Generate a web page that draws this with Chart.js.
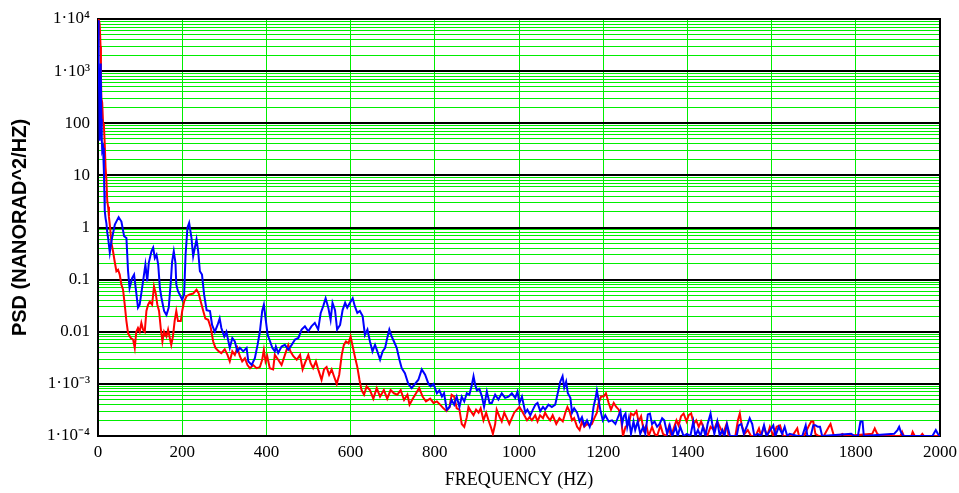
<!DOCTYPE html>
<html>
<head>
<meta charset="utf-8">
<script src="https://cdn.jsdelivr.net/npm/chart.js@4.4.1/dist/chart.umd.min.js"></script>
<style>
  body { margin: 0; background: #fff; }
  #psd-chart { display: block; }
</style>
</head>
<body>
<canvas id="psd-chart" width="959" height="493"></canvas>
<script>
// ---- data ----
var freqBlue = [0, 1, 2, 3, 4, 5, 6, 7, 8, 9, 10, 12, 14, 15, 16, 18, 20, 22, 24, 28, 32, 40, 49, 55.6, 62, 67.5, 71.4, 75, 81, 85.7, 91, 95, 99, 107, 112.6, 117, 120.6, 127, 131, 135, 139, 143, 147, 150.7, 157, 162.6, 168, 173, 176, 180, 184, 186, 190, 194, 200, 204.6, 208, 212.5, 216.5, 222, 226, 230, 234, 238, 242, 247, 252, 258, 266, 271, 277.5, 284, 289, 293, 300, 305, 313, 319, 325, 331, 337, 345, 353, 357, 365, 372.6, 379, 384.5, 390, 394, 398, 403, 408, 414, 420, 422.5, 428, 436, 444, 452, 460, 468, 476, 483.6, 491.5, 499.5, 507, 515, 523, 529, 535, 540.7, 547, 552.5, 557, 563, 568, 575, 581, 587, 592, 598.5, 605, 610, 616, 622, 628.6, 634, 640, 646, 652, 658, 663.5, 670, 676, 682, 687, 692, 697.6, 703, 709.5, 716, 721.4, 729, 737, 745, 753, 761, 769, 777, 785, 790, 797, 805, 811, 817, 822, 828.4, 835, 840, 846, 852, 858.5, 864, 870, 876, 882, 888, 892, 896, 900, 906, 912, 917, 923.6, 930, 935.5, 943.4, 951, 959, 967, 975, 983, 991, 996.5, 1001, 1007, 1015, 1020, 1027, 1033, 1039, 1044, 1050.5, 1057, 1062, 1070, 1078, 1086, 1092, 1098, 1103.5, 1107.5, 1112, 1116, 1122, 1126, 1131, 1138, 1144, 1149.5, 1155, 1161.5, 1168, 1173, 1177, 1182, 1185, 1189, 1193, 1199, 1205, 1213, 1221, 1229, 1237, 1241, 1245, 1249, 1253, 1257, 1261, 1266, 1272, 1276, 1282, 1288, 1295, 1300, 1306, 1311, 1316, 1322, 1328, 1334, 1340, 1345, 1352, 1358, 1364, 1372, 1377, 1383, 1391, 1399, 1407, 1414, 1419, 1425, 1431, 1437, 1443, 1448, 1455, 1459, 1464, 1471, 1477, 1483, 1488, 1494, 1501, 1517, 1522, 1528, 1534, 1542, 1548, 1554, 1559, 1567, 1575, 1582, 1588, 1597, 1604, 1609, 1617, 1625, 1631, 1637, 1643, 1661, 1673, 1681, 1685, 1693, 1699, 1704, 1710, 1715, 1720, 1789, 1797, 1805, 1811, 1816, 1819, 1891, 1899, 1903, 1907, 1913, 1982, 1990, 1995, 2000];
var psdBlue = [9500, 5000, 1400, 300, 46, 500, 1400, 1000, 120, 50, 30, 34, 12, 5, 2.1, 1.5, 1.2, 0.8, 0.63, 0.33, 0.55, 1.14, 1.58, 1.3, 0.68, 0.63, 0.145, 0.069, 0.107, 0.125, 0.055, 0.029, 0.033, 0.093, 0.195, 0.093, 0.21, 0.35, 0.41, 0.26, 0.3, 0.195, 0.069, 0.045, 0.025, 0.021, 0.029, 0.093, 0.22, 0.35, 0.21, 0.08, 0.06, 0.052, 0.041, 0.052, 0.3, 0.99, 1.23, 0.63, 0.28, 0.41, 0.59, 0.35, 0.145, 0.125, 0.052, 0.026, 0.025, 0.0135, 0.01, 0.0135, 0.018, 0.0118, 0.0081, 0.01, 0.0049, 0.0076, 0.0065, 0.0042, 0.0049, 0.0042, 0.0049, 0.0027, 0.0023, 0.0031, 0.0056, 0.01, 0.025, 0.033, 0.018, 0.0087, 0.0068, 0.0049, 0.0042, 0.0052, 0.0039, 0.0052, 0.0056, 0.0045, 0.0056, 0.0071, 0.0076, 0.011, 0.0127, 0.0102, 0.0127, 0.0148, 0.011, 0.023, 0.031, 0.044, 0.029, 0.017, 0.036, 0.026, 0.011, 0.0135, 0.026, 0.036, 0.029, 0.036, 0.044, 0.031, 0.023, 0.025, 0.02, 0.0087, 0.011, 0.0065, 0.0042, 0.0056, 0.0042, 0.0029, 0.0042, 0.0049, 0.0076, 0.011, 0.0081, 0.0065, 0.0049, 0.0029, 0.002, 0.0016, 0.001, 0.00083, 0.001, 0.0012, 0.0019, 0.0015, 0.001, 0.0009, 0.001, 0.00066, 0.00075, 0.00057, 0.00066, 0.00032, 0.00036, 0.00049, 0.0004, 0.00057, 0.00036, 0.00057, 0.00046, 0.00066, 0.00062, 0.00095, 0.0014, 0.00095, 0.00075, 0.0008, 0.00057, 0.00036, 0.00071, 0.00043, 0.00043, 0.00062, 0.0005, 0.00066, 0.00054, 0.00057, 0.00066, 0.00054, 0.00071, 0.00043, 0.00057, 0.00028, 0.00032, 0.00025, 0.00032, 0.0004, 0.00043, 0.0003, 0.00036, 0.00032, 0.0004, 0.00036, 0.0004, 0.00066, 0.0011, 0.0014, 0.00085, 0.0011, 0.00066, 0.00054, 0.00028, 0.00034, 0.00028, 0.00019, 0.00023, 0.00016, 0.0002, 0.00015, 0.0002, 0.00036, 0.00054, 0.00075, 0.0005, 0.00032, 0.0002, 0.00025, 0.00019, 0.0002, 0.00017, 0.00025, 0.0003, 0.00017, 0.00024, 0.00027, 0.00015, 0.00022, 0.00011, 0.00019, 0.00013, 0.00019, 0.00011, 0.00015, 0.00011, 0.00026, 0.00027, 0.00017, 0.00019, 0.00015, 0.00017, 0.00022, 0.0002, 0.00011, 0.00016, 0.0001, 0.00015, 0.0001, 0.00015, 0.0001, 0.00011, 0.0001, 0.00019, 0.0001, 0.00013, 0.0001, 0.00015, 0.0001, 0.00017, 0.00027, 0.00017, 0.00011, 0.00019, 0.0001, 0.00013, 0.0001, 0.00017, 0.0001, 0.0001, 0.00016, 0.00017, 0.00011, 0.00016, 0.00022, 0.00017, 0.0001, 0.00011, 0.0001, 0.00016, 0.0001, 0.00013, 0.00016, 0.0001, 0.00015, 0.00011, 0.00015, 0.0001, 0.00011, 0.0001, 0.0001, 0.00016, 0.0001, 0.0001, 0.00016, 0.00016, 0.00015, 0.00015, 0.0001, 0.00011, 0.0001, 0.0001, 0.00019, 0.00019, 0.0001, 0.00011, 0.00013, 0.00015, 0.00012, 0.0001, 0.0001, 0.00013, 0.00011, 0.0001];

var freqRed = [0, 2, 4, 6, 7, 8, 10, 12, 14, 16, 18, 20, 22, 24, 26, 28, 32, 35.7, 39.7, 43.7, 47.6, 51.6, 55.6, 59.5, 63.5, 67.5, 71.4, 77.8, 83.3, 87.3, 91, 95, 99, 103, 107, 111, 115, 119, 123, 128.5, 133, 137, 141, 145, 149, 153, 157, 162.6, 166.5, 170.5, 174, 178, 182, 186, 190, 196.7, 200, 204.6, 210, 218, 226, 234, 239, 244, 250, 255, 261.7, 268, 273.6, 279, 287, 293, 301, 307.6, 313, 319, 325, 331, 337, 342.5, 349, 355, 361, 368.7, 376.6, 384.5, 390, 394, 398, 402, 408, 416, 420, 428, 436, 444, 452, 457, 464, 472, 480, 486, 491.5, 499.5, 505, 511, 517.6, 523, 531, 537, 543, 549, 555, 560.5, 567, 573, 579, 584, 589, 595, 600, 605, 610, 616, 621, 626, 632, 638, 646, 654, 662, 670, 679, 687, 695, 703, 711, 719, 727, 735, 740, 747.6, 755.5, 763, 771, 779, 789, 797, 805, 812.6, 820.5, 828, 835, 840, 846, 852, 858.5, 864, 870, 876, 880, 885.5, 892, 898, 904, 909, 915.6, 922, 927.5, 933, 938, 943.4, 947, 954, 959, 965, 971, 977, 983, 988.6, 995, 1001, 1007, 1012.5, 1019, 1025, 1030.6, 1038.5, 1044, 1050, 1057, 1062, 1068, 1074, 1080, 1088.5, 1096, 1104, 1110, 1115, 1120, 1126, 1131, 1138, 1144, 1149.5, 1155, 1161.5, 1168, 1173, 1179, 1185, 1189, 1195, 1201, 1206.5, 1213, 1218.5, 1225, 1231, 1237, 1242, 1247, 1253, 1261, 1266, 1272, 1279, 1284, 1290, 1296, 1302.5, 1308, 1316, 1322, 1328, 1336, 1342, 1350, 1356, 1361, 1367.5, 1374, 1379, 1385, 1391, 1398, 1403, 1409, 1415, 1421, 1427, 1432.5, 1439, 1447, 1455, 1463, 1471, 1477, 1485, 1493, 1498, 1514, 1520, 1524.5, 1529, 1536, 1543.5, 1551, 1562, 1570, 1575, 1581.5, 1589.5, 1596, 1604, 1612, 1620, 1627.5, 1649, 1661, 1665, 1677, 1689, 1694, 1699, 1704, 1712, 1724, 1736, 1740, 1744, 1748, 1760, 1768, 1776, 1839, 1845, 1851, 1859, 1906, 1910, 1914, 1932, 1935, 1940, 1954, 1958, 1962, 2000];
var psdRed = [9000, 9500, 8000, 3000, 800, 300, 250, 100, 90, 40, 14, 8, 3.2, 2.5, 1.6, 1.14, 0.5, 0.35, 0.22, 0.145, 0.155, 0.125, 0.08, 0.064, 0.033, 0.016, 0.0094, 0.0076, 0.0071, 0.0049, 0.01, 0.0118, 0.01, 0.0148, 0.011, 0.01, 0.025, 0.033, 0.038, 0.033, 0.074, 0.055, 0.033, 0.025, 0.0118, 0.0065, 0.01, 0.0081, 0.011, 0.0076, 0.0056, 0.0081, 0.016, 0.025, 0.016, 0.016, 0.025, 0.038, 0.048, 0.052, 0.054, 0.064, 0.055, 0.038, 0.025, 0.018, 0.017, 0.0118, 0.0065, 0.0049, 0.0042, 0.0039, 0.0046, 0.0036, 0.0027, 0.0042, 0.0036, 0.0049, 0.0034, 0.0027, 0.0031, 0.0023, 0.002, 0.0023, 0.002, 0.0021, 0.0029, 0.0045, 0.0027, 0.0034, 0.002, 0.0019, 0.0036, 0.0029, 0.0023, 0.0036, 0.0056, 0.0042, 0.0034, 0.0029, 0.0036, 0.0019, 0.0025, 0.0036, 0.0025, 0.002, 0.0027, 0.0019, 0.0012, 0.0019, 0.0021, 0.0015, 0.0019, 0.0014, 0.001, 0.0015, 0.0036, 0.0056, 0.0065, 0.006, 0.0081, 0.0052, 0.0034, 0.0021, 0.0012, 0.00076, 0.00062, 0.00089, 0.00076, 0.00052, 0.00083, 0.00057, 0.00076, 0.00052, 0.00076, 0.00066, 0.00062, 0.00076, 0.00049, 0.00062, 0.0004, 0.00052, 0.00066, 0.00083, 0.00057, 0.00046, 0.00052, 0.00043, 0.00046, 0.0004, 0.00034, 0.0003, 0.00036, 0.00062, 0.00057, 0.00034, 0.00032, 0.00017, 0.00015, 0.00023, 0.00036, 0.0003, 0.00025, 0.00032, 0.00028, 0.00034, 0.0002, 0.00028, 0.0002, 0.00015, 0.00011, 0.00017, 0.00032, 0.00023, 0.00019, 0.00028, 0.00022, 0.00017, 0.00022, 0.00028, 0.00032, 0.00036, 0.0003, 0.00025, 0.0002, 0.00023, 0.0002, 0.00025, 0.00019, 0.00025, 0.00022, 0.00028, 0.00023, 0.0002, 0.00025, 0.00017, 0.00022, 0.00019, 0.00028, 0.00036, 0.0003, 0.0002, 0.00022, 0.00015, 0.00013, 0.00019, 0.00015, 0.00017, 0.00016, 0.00017, 0.00022, 0.00028, 0.00043, 0.00057, 0.00057, 0.00066, 0.00043, 0.00032, 0.00043, 0.00036, 0.00032, 0.00023, 0.0001, 0.00015, 0.00017, 0.00027, 0.00025, 0.0003, 0.00019, 0.00024, 0.00013, 0.00016, 0.0001, 0.00015, 0.00011, 0.0001, 0.00016, 0.00011, 0.0001, 0.00015, 0.0001, 0.00014, 0.0002, 0.00016, 0.00024, 0.00027, 0.00019, 0.00025, 0.00027, 0.00017, 0.0002, 0.00015, 0.00019, 0.00014, 0.0001, 0.00015, 0.00013, 0.00019, 0.00015, 0.00011, 0.00017, 0.0001, 0.0001, 0.0002, 0.00027, 0.00016, 0.00011, 0.00013, 0.0001, 0.0001, 0.00014, 0.0001, 0.00015, 0.0001, 0.00015, 0.0001, 0.00015, 0.00016, 0.0001, 0.0001, 0.00014, 0.0001, 0.0001, 0.00016, 0.00019, 0.00019, 0.00011, 0.0001, 0.0001, 0.00015, 0.00017, 0.00013, 0.0001, 0.0001, 0.00011, 0.0001, 0.00011, 0.00014, 0.00011, 0.0001, 0.0001, 0.00012, 0.0001, 0.0001, 0.00012, 0.0001, 0.0001, 0.00011, 0.0001, 0.0001];

// y axis: decades get a label and a black line, 2..9 get green lines
var decadeValues = [0.0001, 0.001, 0.01, 0.1, 1, 10, 100, 1000, 10000];
var decadeLabels = ['1·10⁻⁴', '1·10⁻³', '0.01', '0.1', '1', '10', '100', '1·10³', '1·10⁴'];
var minorSteps = [2, 3, 4, 5, 6, 7, 8, 9];
var xTickStep = 200;

function toPoints(xs, ys) {
  return xs.map(function(x, i) { return {x: x, y: ys[i]}; });
}

var yTickList = [];
decadeValues.forEach(function(d, i) {
  yTickList.push({value: d, major: true, label: decadeLabels[i]});
  if (i < decadeValues.length - 1) {
    minorSteps.forEach(function(m) {
      yTickList.push({value: d * m, major: false, label: ''});
    });
  }
});

var serif = 'Liberation Serif';

//// frame around the plot area ////
var frame = {
  id: 'frame',
  beforeDatasetsDraw: function(chart) {
    var a = chart.chartArea;
    var ctx = chart.ctx;
    ctx.save();
    ctx.strokeStyle = '#000';
    ctx.lineWidth = 2;
    ctx.strokeRect(a.left, a.top, a.right - a.left, a.bottom - a.top);
    ctx.restore();
  }
};

var ctxP = document.getElementById('psd-chart');

var psdChart = new Chart(ctxP, {
  type: 'line',
  data: {
    datasets: [
      {
        label: 'blue',
        data: toPoints(freqBlue, psdBlue),
        borderColor: '#0000ff',
        borderWidth: 2,
        pointRadius: 0,
        tension: 0
      },
      {
        label: 'red',
        data: toPoints(freqRed, psdRed),
        borderColor: '#ff0000',
        borderWidth: 2,
        pointRadius: 0,
        tension: 0
      }
    ]
  },
  options: {
    responsive: false,
    animation: false,
    layout: {
      padding: {top: 19, right: 19, left: 0, bottom: 0}
    },
    plugins: {
      legend: { display: false },
      tooltip: { enabled: false }
    },
    scales: {
      x: {
        type: 'linear',
        min: 0,
        max: 2000,
        afterFit: function(scale) {
          scale.height = 57;
          // end labels may hang over the side padding
          scale.paddingLeft = 0;
          scale.paddingRight = 0;
        },
        ticks: {
          stepSize: xTickStep,
          padding: 6,
          maxRotation: 0,
          color: '#000',
          font: { family: serif, size: 17 },
          callback: function(value) { return String(value); }
        },
        grid: {
          color: '#00ee00',
          lineWidth: 1,
          drawTicks: false
        },
        border: { display: false },
        title: {
          display: true,
          text: 'FREQUENCY (HZ)',
          color: '#000',
          font: { family: serif, size: 18 },
          padding: { top: 0, bottom: 2 }
        }
      },
      y: {
        type: 'logarithmic',
        min: 0.0001,
        max: 10000,
        afterFit: function(scale) { scale.width = 98; },
        afterBuildTicks: function(scale) {
          scale.ticks = yTickList.map(function(t) {
            return {value: t.value, major: t.major, label: t.label};
          });
        },
        ticks: {
          autoSkip: false,
          padding: 8,
          color: '#000',
          font: { family: serif, size: 17 },
          callback: function(value, index) {
            return yTickList[index].label;
          }
        },
        grid: {
          drawTicks: false,
          color: function(c) {
            return (c.tick && c.tick.major) ? '#000000' : '#00ee00';
          },
          lineWidth: function(c) {
            return (c.tick && c.tick.major) ? 2 : 1;
          }
        },
        border: { display: false },
        title: {
          display: true,
          text: 'PSD (NANORAD^2/HZ)',
          color: '#000',
          font: { family: 'Liberation Sans', size: 20, weight: 'bold' },
          padding: { top: 8, bottom: 0 }
        }
      }
    }
  },
  plugins: [frame]
});
</script>
</body>
</html>
